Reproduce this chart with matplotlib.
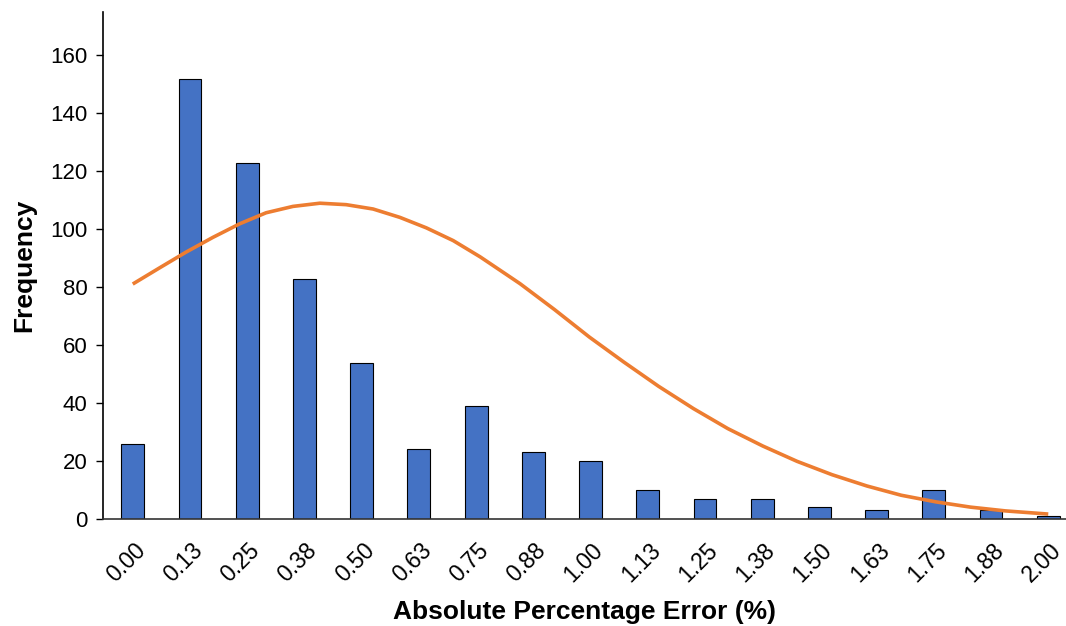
import numpy as np
import matplotlib.pyplot as plt
import matplotlib.transforms as mtransforms

plt.rcParams['font.family'] = ['Liberation Sans', 'DejaVu Sans']

# histogram bins and counts
bin_labels = ['0.00', '0.13', '0.25', '0.38', '0.50', '0.63', '0.75', '0.88', '1.00',
              '1.13', '1.25', '1.38', '1.50', '1.63', '1.75', '1.88', '2.00']
counts = [26, 152, 123, 83, 54, 24, 39, 23, 20, 10, 7, 7, 4, 3, 10, 3, 1]

# fitted curve (position in bin units, frequency)
curve_pos = [0.0, 0.47, 0.93, 1.40, 1.87, 2.33, 2.80, 3.27, 3.73, 4.20, 4.67, 5.13,
             5.60, 6.07, 6.53, 6.77, 7.37, 7.98, 8.58, 9.19, 9.80, 10.40, 11.01,
             11.61, 12.22, 12.83, 13.43, 14.04, 14.64, 15.25, 16.0]
curve_val = [81.1, 86.7, 92.1, 97.2, 101.9, 105.7, 107.9, 109.0, 108.5, 107.0, 104.1,
             100.5, 96.1, 90.5, 84.4, 81.2, 72.3, 62.8, 54.2, 45.8, 38.1, 31.2, 25.2,
             19.9, 15.3, 11.4, 8.2, 5.9, 4.1, 2.8, 1.7]

fig = plt.figure(figsize=(10.66, 6.26), dpi=100)
ax = fig.add_axes([103 / 1066, 1 - 519 / 626, 963 / 1066, 507 / 626])

x = np.arange(len(counts))
ax.bar(x, counts, width=0.4, color='#4472C4', edgecolor='black', linewidth=0.8, zorder=2)
ax.plot(curve_pos, curve_val, color='#ED7D31', linewidth=2.6, solid_capstyle='butt',
        solid_joinstyle='round', zorder=3)

ax.set_xlim(-0.52, 16.31)
ax.set_ylim(0, 175)
ax.set_yticks(range(0, 161, 20))
ax.set_xticks(x)
ax.set_xticklabels(bin_labels, rotation=45, ha='right', rotation_mode='anchor', fontsize=16.5)
ax.tick_params(axis='x', length=0, pad=14)
ax.tick_params(axis='y', length=5, width=1, labelsize=16, pad=6)

shift = mtransforms.ScaledTranslation(1 / 100, 0, fig.dpi_scale_trans)
for lab in ax.get_xticklabels():
    lab.set_transform(lab.get_transform() + shift)

for s in ['top', 'right']:
    ax.spines[s].set_visible(False)
ax.spines['left'].set_linewidth(1.2)
ax.spines['bottom'].set_linewidth(1.2)
ax.spines['bottom'].set_color('#333333')

ax.set_ylabel('Frequency', fontsize=19, fontweight='bold', labelpad=10)
ax.set_xlabel('Absolute Percentage Error (%)', fontsize=19, fontweight='bold', labelpad=10)

fig.savefig('out.png', dpi=100)
